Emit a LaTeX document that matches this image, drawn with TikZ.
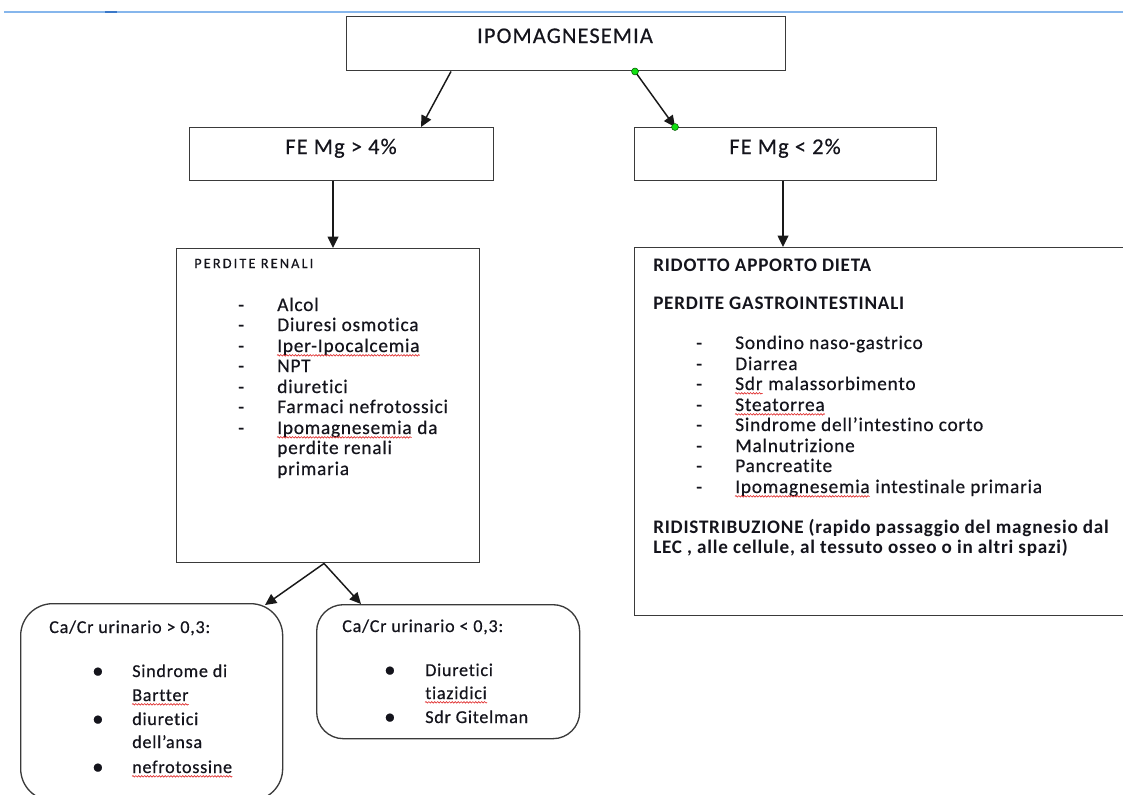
\documentclass[tikz,border=0pt]{standalone}
\usepackage{fontspec}
\setmainfont{Carlito}
\usetikzlibrary{arrows.meta,decorations.pathmorphing}

% type faces, with a little tracking as on screen
\newfontfamily\capsfont[LetterSpace=5,Ligatures=NoCommon,FakeBold=0.5]{Carlito}
\newfontfamily\listfont[LetterSpace=4,Ligatures=NoCommon,FakeBold=0.5]{Carlito}
\newfontfamily\boldface[LetterSpace=4,Ligatures=NoCommon]{Carlito Bold}
\newfontfamily\headfont[LetterSpace=15,Ligatures=NoCommon,FakeBold=0.4]{Carlito}
\newcommand\bigtxt{\capsfont\fontsize{16.8}{19}\selectfont}
\newcommand\listtxt{\listfont\fontsize{14.5}{17}\selectfont}
\newcommand\headtxt{\headfont\fontsize{10.7}{12}\selectfont}
\newcommand\boldtxt{\boldface\fontsize{14.35}{17}\selectfont}
\newcommand\roundtxt{\listfont\fontsize{13.6}{16}\selectfont}
\newcommand\bullettxt{\listfont\fontsize{17}{17}\selectfont}

\definecolor{boxgrey}{HTML}{3A3A3A}
\definecolor{textcol}{HTML}{14141C}
\definecolor{rulerblue}{HTML}{86B6EC}
\definecolor{rulerdark}{HTML}{3A78C8}
\definecolor{handlegreen}{HTML}{12E012}
\definecolor{spellred}{HTML}{E03030}

\tikzset{
  box/.style={draw=boxgrey, line width=1.1pt, inner sep=0pt, anchor=north west},
  rbox/.style={box, line width=1pt},
  txt/.style={inner sep=0pt, anchor=base west, text=textcol},
  ctxt/.style={inner sep=0pt, anchor=base, text=textcol},
  arr/.style={draw=black!90, line width=1.1pt, -{Triangle[length=8.5pt,width=8pt]}},
  handle/.style={circle, fill=handlegreen, draw=green!35!black, line width=0.4pt,
                 inner sep=0pt, minimum size=5.2pt},
  squig/.style={draw=spellred, line width=0.5pt, decorate,
                decoration={snake, amplitude=0.55pt, segment length=2.2pt}},
}

\begin{document}
\begin{tikzpicture}[x=0.75pt,y=-0.75pt]
\useasboundingbox (0,0) rectangle (1123,794);
\clip (0,0) rectangle (1123,794);

% ruler line at the top
\draw[rulerblue, line width=1pt] (4,12) -- (1123,12);
\draw[rulerdark, line width=1.4pt] (105,12) -- (117,12);

% boxes
\node[box, minimum width=329.25pt, minimum height=40.5pt] (top) at (346,16) {};
\node[box, minimum width=228pt, minimum height=39.75pt] (fe4) at (189,127) {};
\node[box, minimum width=226.5pt, minimum height=39.75pt] (fe2) at (634,127) {};
\node[box, minimum width=227.25pt, minimum height=235.5pt] (renal) at (176,248) {};
\node[box, minimum width=372pt, minimum height=276pt] (gi) at (634,247) {};
\node[rbox, rounded corners=24pt, minimum width=196.5pt, minimum height=147.75pt] (hica) at (20,603) {};
\node[rbox, rounded corners=20pt, minimum width=197.25pt, minimum height=100.5pt] (loca) at (316,604) {};

% connectors
\coordinate (a1s) at ([xshift=78.75pt]top.south west);
\coordinate (a1e) at ([xshift=174pt]fe4.north west);
\draw[arr] (a1s) -- (a1e);
\coordinate (a2s) at ([xshift=216.75pt]top.south west);
\coordinate (a2e) at ([xshift=30.75pt]fe2.north west);
\draw[arr] (a2s) -- (a2e);
\node[handle] (h1) at (a2s) {};
\node[handle] (h2) at (a2e) {};
\coordinate (a3s) at ([xshift=108pt]fe4.south west);
\draw[arr] (a3s) -- (a3s |- renal.north);
\coordinate (a4s) at ([xshift=111.75pt]fe2.south west);
\draw[arr] (a4s) -- (a4s |- gi.north);
\coordinate (fork) at ([xshift=111pt]renal.south west);
\coordinate (a5e) at ([xshift=183.75pt,yshift=-1.5pt]hica.north west);
\coordinate (a6e) at ([xshift=33.75pt]loca.north west);
\draw[arr] (fork) -- (a5e);
\draw[arr] (fork) -- (a6e);

% top labels
\node[ctxt, font=\bigtxt] (ttop) at (565,43) {IPOMAGNESEMIA};
\node[ctxt, font=\bigtxt] (tfe4) at (341,154) {FE Mg > 4\%};
\node[ctxt, font=\bigtxt] (tfe2) at (785,154) {FE Mg < 2\%};

% renal losses
\node[txt, font=\headtxt] (rhead) at (194,268) {PERDITE RENALI};
\foreach \y [count=\i] in {311,331,352,372,393,413,434}
  \node[txt, font=\listtxt] (rdash\i) at (238,\y) {-};
\node[txt, font=\listtxt] (r1) at (277,311) {Alcol};
\node[txt, font=\listtxt] (r2) at (277,331) {Diuresi osmotica};
\node[txt, font=\listtxt] (r3) at (277,352) {Iper-Ipocalcemia};
\node[txt, font=\listtxt] (r4) at (277,372) {NPT};
\node[txt, font=\listtxt] (r5) at (277,393) {diuretici};
\node[txt, font=\listtxt] (r6) at (277,413) {Farmaci nefrotossici};
\node[txt, font=\listtxt] (r7a) at (277,434) {Ipomagnesemia};
\node[txt, font=\listtxt] (r7b) at (r7a.base east) {\ da};
\node[txt, font=\listtxt] (r8) at (277,454) {perdite renali};
\node[txt, font=\listtxt] (r9) at (277,475) {primaria};

% gastrointestinal losses
\node[txt, font=\boldtxt] (ghead1) at (653,271) {RIDOTTO APPORTO DIETA};
\node[txt, font=\boldtxt] (ghead2) at (653,309) {PERDITE GASTROINTESTINALI};
\foreach \y [count=\i] in {349,370,390,411,431,452,472,493}
  \node[txt, font=\listtxt] (gdash\i) at (696,\y) {-};
\node[txt, font=\listtxt] (g1) at (735,349) {Sondino naso-gastrico};
\node[txt, font=\listtxt] (g2) at (735,370) {Diarrea};
\node[txt, font=\listtxt] (g3a) at (735,390) {Sdr};
\node[txt, font=\listtxt] (g3b) at (g3a.base east) {\ malassorbimento};
\node[txt, font=\listtxt] (g4) at (735,411) {Steatorrea};
\node[txt, font=\listtxt] (g5) at (735,431) {Sindrome dell’intestino corto};
\node[txt, font=\listtxt] (g6) at (735,452) {Malnutrizione};
\node[txt, font=\listtxt] (g7) at (735,472) {Pancreatite};
\node[txt, font=\listtxt] (g8a) at (735,493) {Ipomagnesemia};
\node[txt, font=\listtxt] (g8b) at (g8a.base east) {\ intestinale primaria};
\node[txt, font=\boldtxt] (gred1) at (653,533) {RIDISTRIBUZIONE (rapido passaggio del magnesio dal};
\node[txt, font=\boldtxt] (gred2) at (653,553) {LEC , alle cellule, al tessuto osseo o in altri spazi)};

% urinary Ca/Cr > 0,3
\node[txt, font=\roundtxt] (hhead) at (49,633) {Ca/Cr urinario > 0,3:};
\foreach \y [count=\i] in {677,725,773}
  \node[txt, font=\bullettxt] (hbul\i) at (92,\y+1) {•};
\node[txt, font=\roundtxt] (h1a) at (132,677) {Sindrome di};
\node[txt, font=\roundtxt] (h1b) at (132,701) {Bartter};
\node[txt, font=\roundtxt] (h2a) at (132,725) {diuretici};
\node[txt, font=\roundtxt] (h2b) at (132,748) {dell’ansa};
\node[txt, font=\roundtxt] (h3) at (132,773) {nefrotossine};

% urinary Ca/Cr < 0,3
\node[txt, font=\roundtxt] (lhead) at (342,632) {Ca/Cr urinario < 0,3:};
\foreach \y [count=\i] in {676,723}
  \node[txt, font=\bullettxt] (lbul\i) at (384,\y+1) {•};
\node[txt, font=\roundtxt] (l1a) at (425,676) {Diuretici};
\node[txt, font=\roundtxt] (l1b) at (425,699) {tiazidici};
\node[txt, font=\roundtxt] (l2) at (425,723) {Sdr Gitelman};

% spelling marks under words
\foreach \w in {r3,r7a,g3a,g4,g8a,h1b,h3,l1b}
  \draw[squig] ([yshift=-2.5pt]\w.base west) -- ([yshift=-2.5pt]\w.base east);
\end{tikzpicture}
\end{document}
